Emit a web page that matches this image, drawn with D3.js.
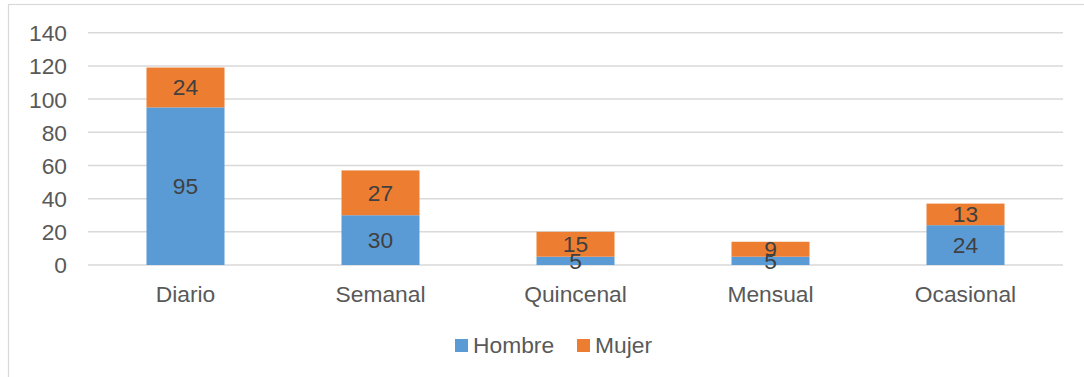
<!DOCTYPE html>
<html>
<head>
<meta charset="utf-8">
<script src="https://cdn.jsdelivr.net/npm/d3@7"></script>
<style>
  html, body { margin: 0; padding: 0; background: #fff; }
  svg { display: block; font-family: "Liberation Sans", Arial, sans-serif; }
</style>
</head>
<body>
<svg id="chart" width="1084" height="377"></svg>
<script>
// Frequency categories and stacked values per group
const categories = ["Diario", "Semanal", "Quincenal", "Mensual", "Ocasional"];
const hombre = [95, 30, 5, 5, 24];
const mujer = [24, 27, 15, 9, 13];
const seriesNames = ["Hombre", "Mujer"];
const seriesColors = ["#5B9BD5", "#ED7D31"];
const yTicks = [0, 20, 40, 60, 80, 100, 120, 140];

const svg = d3.select("#chart");
const W = 1084, H = 377;
const FS = 22.8;

// outer frame
svg.append("rect")
  .attr("x", 8.5).attr("y", 4.5)
  .attr("width", W + 10).attr("height", H + 10)
  .attr("fill", "#fff").attr("stroke", "#D9D9D9").attr("stroke-width", 1.2);

const plot = { left: 88, right: 1063, top: 32.7, bottom: 265 };

const x = d3.scaleBand()
  .domain(categories)
  .range([plot.left, plot.right])
  .paddingInner(0)
  .paddingOuter(0);

const y = d3.scaleLinear()
  .domain([0, 140])
  .range([plot.bottom, plot.top]);

// gridlines
svg.append("g")
  .selectAll("line")
  .data(yTicks)
  .join("line")
  .attr("x1", plot.left).attr("x2", plot.right)
  .attr("y1", d => y(d)).attr("y2", d => y(d))
  .attr("stroke", "#D9D9D9").attr("stroke-width", 1.5);

// y axis labels
const yAxis = d3.axisLeft(y).tickValues(yTicks).tickSize(0).tickPadding(0);
const gy = svg.append("g").attr("transform", `translate(${plot.left - 21},0)`).call(yAxis);
gy.select(".domain").remove();
gy.selectAll("text")
  .attr("font-size", FS).attr("fill", "#595959")
  .attr("font-family", "Liberation Sans, Arial, sans-serif")
  .attr("dy", "0.35em");

// stacked data
const rows = categories.map((c, i) => ({ cat: c, Hombre: hombre[i], Mujer: mujer[i] }));
const stack = d3.stack().keys(seriesNames)(rows);

const barW = x.bandwidth() * 0.4;
const barOffset = (x.bandwidth() - barW) / 2;

const layers = svg.append("g")
  .selectAll("g")
  .data(stack)
  .join("g")
  .attr("fill", (d, i) => seriesColors[i]);

layers.selectAll("rect")
  .data(d => d)
  .join("rect")
  .attr("x", d => x(d.data.cat) + barOffset)
  .attr("width", barW)
  .attr("y", d => y(d[1]))
  .attr("height", d => y(d[0]) - y(d[1]));

// value labels centred in each segment
const labels = svg.append("g");
stack.forEach(layer => {
  layer.forEach(d => {
    labels.append("text")
      .attr("x", x(d.data.cat) + x.bandwidth() / 2)
      .attr("y", y((d[0] + d[1]) / 2))
      .attr("dy", "0.35em")
      .attr("text-anchor", "middle")
      .attr("font-size", FS)
      .attr("fill", "#404040")
      .text(d[1] - d[0]);
  });
});

// category labels
const xAxis = d3.axisBottom(x).tickSize(0).tickPadding(0);
const gx = svg.append("g").attr("transform", `translate(0,${plot.bottom + 29})`).call(xAxis);
gx.select(".domain").remove();
gx.selectAll("text")
  .attr("font-size", FS).attr("fill", "#595959")
  .attr("font-family", "Liberation Sans, Arial, sans-serif")
  .attr("dy", "0.35em");

// legend
const legendItems = [
  { name: seriesNames[0], color: seriesColors[0], x: 455 },
  { name: seriesNames[1], color: seriesColors[1], x: 577 }
];
const lg = svg.append("g");
legendItems.forEach(it => {
  lg.append("rect")
    .attr("x", it.x).attr("y", 339)
    .attr("width", 13).attr("height", 13)
    .attr("fill", it.color);
  lg.append("text")
    .attr("x", it.x + 18).attr("y", 345.5)
    .attr("dy", "0.35em")
    .attr("font-size", FS).attr("fill", "#595959")
    .text(it.name);
});
</script>
</body>
</html>
